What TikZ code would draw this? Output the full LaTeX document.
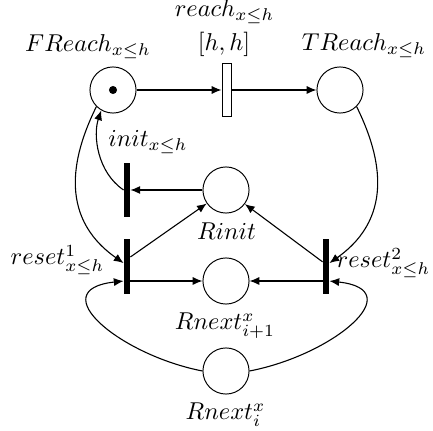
\documentclass[tikz,border=0pt]{standalone}
\usetikzlibrary{arrows.meta,calc}
\begin{document}
\begin{tikzpicture}[x=0.41pt,y=-0.41pt,
  place/.style={circle,draw,line width=0.4pt,minimum size=18.9pt,inner sep=0pt},
  bar/.style={rectangle,fill=black,minimum width=2.4pt,minimum height=22.3pt,inner sep=0pt},
  timed/.style={rectangle,draw,fill=white,minimum width=3.7pt,minimum height=22.1pt,inner sep=0pt,line width=0.4pt},
  token/.style={circle,fill=black,minimum size=3.3pt,inner sep=0pt},
  lbl/.style={anchor=base,inner sep=0pt},
  arc/.style={-{Latex[length=4pt,width=3.3pt]},line width=0.45pt}]
\path[use as bounding box] (0,0) rectangle (433,431);
% places
\node[place] (freach) at (113,90) {};
\node[token] (tok) at (113,90) {};
\node[place] (treach) at (340,90) {};
\node[place] (rinit) at (226,190) {};
\node[place] (rnext1) at (226,281) {};
\node[place] (rnexti) at (226,371) {};
% transitions
\node[timed] (reach) at (226.5,90) {};
\node[bar] (init) at (127,190) {};
\node[bar] (reset1) at (127,266.5) {};
\node[bar] (reset2) at (326,266.5) {};
% labels
\node[lbl] (lreach) at (224.5,16.7) {$reach_{x\leq h}$};
\node[lbl] (lint) at (224,51) {$[h,h]$};
\node[lbl] (lfreach) at (88,51.5) {$FReach_{x\leq h}$};
\node[lbl] (ltreach) at (364,50.7) {$TReach_{x\leq h}$};
\node[lbl] (linit) at (148,146.7) {$init_{x\leq h}$};
\node[lbl] (lrinit) at (226.5,240) {$Rinit$};
\node[lbl] (lreset1) at (57.5,265) {$reset^1_{x\leq h}$};
\node[lbl] (lreset2) at (383.5,268) {$reset^2_{x\leq h}$};
\node[lbl] (lrnext1) at (225,330) {$Rnext^x_{i+1}$};
\node[lbl] (lrnexti) at (225.5,420) {$Rnext^x_i$};
% arcs
\draw[arc] (freach) -- (reach);
\draw[arc] (reach) -- (treach);
\draw[arc] (rinit) -- (init);
\draw[arc] (init.west) .. controls (97,172) and (93,135) .. (freach.-120);
\draw[arc] (freach.-135) .. controls (75,150) and (55,215) .. ([yshift=1.4pt]reset1.west);
\draw[arc] (treach.-45) .. controls (378,150) and (398,215) .. ([yshift=1.4pt]reset2.east);
\draw[arc] ([yshift=3.9pt]reset1.east) -- (rinit);
\draw[arc] ([yshift=1.9pt]reset2.west) -- (rinit);
\draw[arc] (reset1.east |- rnext1) -- (rnext1);
\draw[arc] (reset2.west |- rnext1) -- (rnext1);
\draw[arc] (rnexti.west) .. controls (120,355) and (42,290) .. (reset1.west |- rnext1);
\draw[arc] (rnexti.east) .. controls (333,355) and (411,290) .. (reset2.east |- rnext1);
\end{tikzpicture}
\end{document}
